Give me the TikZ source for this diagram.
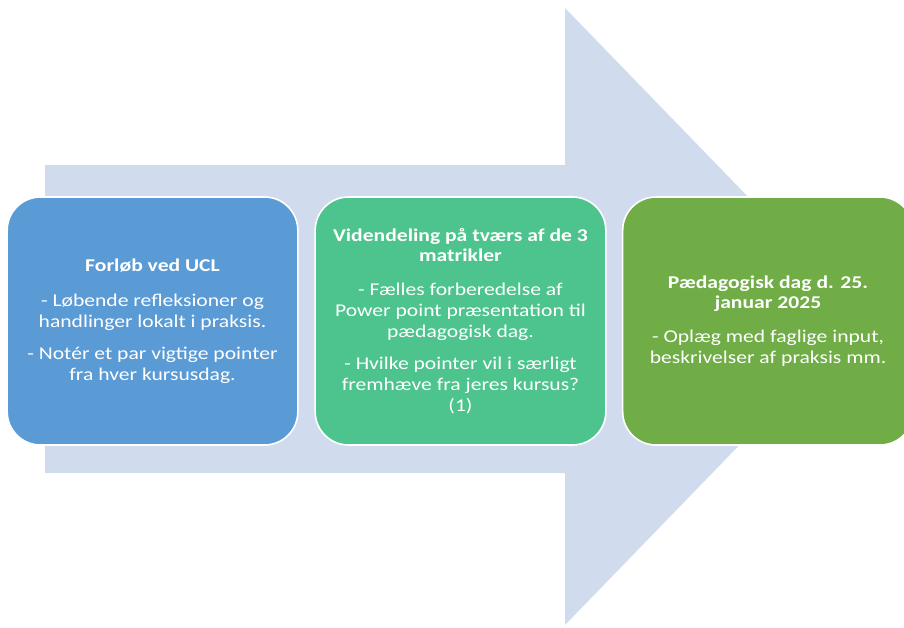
\documentclass[tikz,border=0pt]{standalone}
\usepackage{fontspec}
\setmainfont{Carlito}[FakeStretch=1.2]
\definecolor{arrowfill}{HTML}{D0DCEE}
\definecolor{boxblue}{HTML}{5B9BD5}
\definecolor{boxteal}{HTML}{4DC48D}
\definecolor{boxgreen}{HTML}{70AD47}
\begin{document}
\begin{tikzpicture}[x=0.75pt,y=-0.75pt,
  stepbox/.style={draw=white, line width=1.2pt, rounded corners=25pt,
    minimum width=218pt, minimum height=186pt, inner sep=0pt,
    text=white, align=center, font=\fontsize{13.5}{15.5}\selectfont},
  ]
\useasboundingbox (0,0) rectangle (904,628);
\begin{scope}
\clip (0,0) rectangle (904,628);
\fill[arrowfill] (45,165) -- (565,165) -- (565,8) -- (864,316.5) -- (565,625) -- (565,473) -- (45,473) -- cycle;
\node[stepbox, fill=boxblue] (b1) at (152.5,321) {\textbf{Forløb ved UCL}\\[11pt]
- Løbende refleksioner og\\handlinger lokalt i praksis.\\[9pt]
- Notér et par vigtige pointer\\fra hver kursusdag.};
\node[stepbox, fill=boxteal] (b2) at (460.5,321) {\textbf{Videndeling på tværs af de 3}\\\textbf{matrikler}\\[10pt]
- Fælles forberedelse af\\Power point præsentation til\\pædagogisk dag.\\[9pt]
- Hvilke pointer vil i særligt\\fremhæve fra jeres kursus?\\(1)};
\node[stepbox, fill=boxgreen] (b3) at (768,321) {\textbf{Pædagogisk dag d. 25.}\\\textbf{januar 2025}\\[10pt]
- Oplæg med faglige input,\\beskrivelser af praksis mm.};
\end{scope}
\end{tikzpicture}
\end{document}
